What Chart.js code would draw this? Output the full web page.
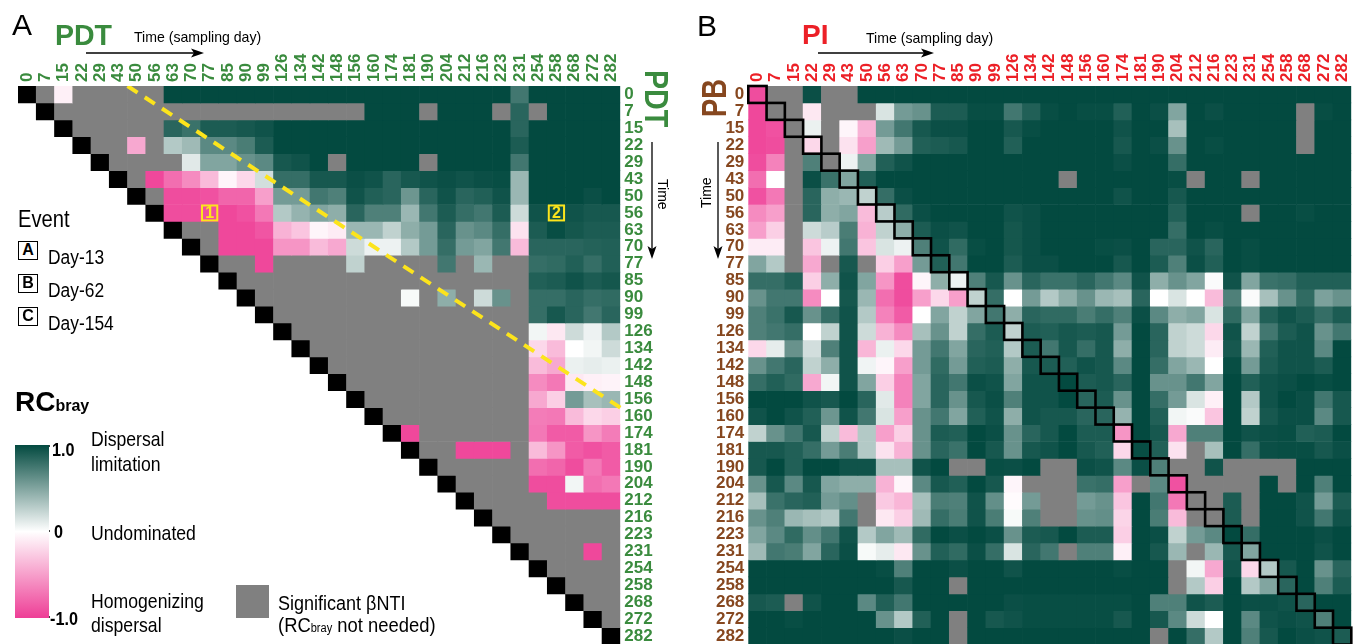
<!DOCTYPE html>
<html><head><meta charset="utf-8">
<script src="https://cdn.jsdelivr.net/npm/chart.js@4.4.1/dist/chart.umd.min.js"></script>
<style>
html,body{margin:0;padding:0;background:#fff;}
body{width:1355px;height:644px;overflow:hidden;position:relative;font-family:'Liberation Sans',Arial,sans-serif;color:#000;}
.w{position:absolute;top:0;height:680px;}
.w canvas{display:block;}
.t{position:absolute;white-space:nowrap;line-height:1;transform-origin:0 0;}
.bd{font-weight:bold;}
.box{position:absolute;left:18px;width:20px;height:19px;box-sizing:border-box;border:1.5px solid #000;font-weight:bold;font-size:16px;line-height:16px;text-align:center;background:#fff;}
</style></head><body>
<div class="w" style="left:0;width:690px"><canvas id="cA" width="690" height="680"></canvas></div>
<div class="w" style="left:690px;width:665px"><canvas id="cB" width="665" height="680"></canvas></div>

<svg width="1355" height="644" style="position:absolute;left:0;top:0">
<g stroke="#000" stroke-width="1.3" fill="none">
<line x1="86" y1="53" x2="196" y2="53"/>
<line x1="818" y1="53" x2="926" y2="53"/>
<line x1="652" y1="142" x2="652" y2="250"/>
<line x1="718" y1="142" x2="718" y2="250"/>
</g>
<g fill="#000">
<polygon points="204,53 191,48.5 194,53 191,57.5"/>
<polygon points="934,53 921,48.5 924,53 921,57.5"/>
<polygon points="652,259 647.5,246 652,249 656.5,246"/>
<polygon points="718,259 713.5,246 718,249 722.5,246"/>
</g>
<g stroke="#000" stroke-width="1.5">
<line x1="37" y1="446" x2="50" y2="446"/><line x1="37" y1="531" x2="50" y2="531"/><line x1="37" y1="617" x2="50" y2="617"/>
</g>
</svg>

<div class="t" style="left:12px;top:9.6px;font-size:30px">A</div>
<div class="t bd" style="left:55px;top:19.6px;font-size:30px;color:#3A8B3E;transform:scaleX(0.95)">PDT</div>
<div class="t" style="left:134px;top:29.3px;font-size:15px;transform:scaleX(0.94)">Time (sampling day)</div>
<div class="t" style="left:697px;top:10.6px;font-size:30px">B</div>
<div class="t bd" style="left:802px;top:21.3px;font-size:28px;color:#EC2027">PI</div>
<div class="t" style="left:866px;top:30.3px;font-size:15px;transform:scaleX(0.94)">Time (sampling day)</div>
<div class="t bd" style="left:0;top:0;font-size:34px;color:#3A8B3E;transform:translate(674.4px,70px) rotate(90deg) scaleX(0.84)">PDT</div>
<div class="t" style="left:0;top:0;font-size:14px;transform:translate(669.5px,179px) rotate(90deg)">Time</div>
<div class="t bd" style="left:0;top:0;font-size:35px;color:#86471F;transform:translate(695.5px,117px) rotate(-90deg) scaleX(0.78)">PB</div>
<div class="t" style="left:0;top:0;font-size:14px;transform:translate(699.2px,208px) rotate(-90deg)">Time</div>

<div class="t" style="left:18px;top:206.7px;font-size:24px;transform:scaleX(0.84)">Event</div>
<div class="box" style="top:241px">A</div>
<div class="box" style="top:274px">B</div>
<div class="box" style="top:307px">C</div>
<div class="t" style="left:48px;top:247.1px;font-size:20px;transform:scaleX(0.87)">Day-13</div>
<div class="t" style="left:48px;top:280.1px;font-size:20px;transform:scaleX(0.87)">Day-62</div>
<div class="t" style="left:48px;top:313.1px;font-size:20px;transform:scaleX(0.87)">Day-154</div>

<div class="t bd" style="left:15px;top:388.3px;font-size:28px">RC<span style="font-size:16px">bray</span></div>
<div style="position:absolute;left:15px;top:445px;width:34px;height:173px;background:linear-gradient(to bottom,rgb(3,74,64) 0%,#ffffff 50%,rgb(238,62,150) 100%)"></div>
<div class="t bd" style="left:52px;top:440.8px;font-size:18px;transform:scaleX(0.9)">1.0</div>
<div class="t bd" style="left:54px;top:522.8px;font-size:18px;transform:scaleX(0.9)">0</div>
<div class="t bd" style="left:50px;top:609.8px;font-size:18px;transform:scaleX(0.9)">-1.0</div>
<div class="t" style="left:90.5px;top:428.2px;font-size:21px;transform:scaleX(0.84)">Dispersal</div>
<div class="t" style="left:90.5px;top:453.2px;font-size:21px;transform:scaleX(0.84)">limitation</div>
<div class="t" style="left:90.5px;top:522.2px;font-size:21px;transform:scaleX(0.84)">Undominated</div>
<div class="t" style="left:90.5px;top:590.2px;font-size:21px;transform:scaleX(0.84)">Homogenizing</div>
<div class="t" style="left:90.5px;top:614.2px;font-size:21px;transform:scaleX(0.84)">dispersal</div>
<div style="position:absolute;left:236px;top:585px;width:33px;height:33px;background:#808080"></div>
<div class="t" style="left:278px;top:593.1px;font-size:20px;transform:scaleX(0.9)">Significant βNTI</div>
<div class="t" style="left:278px;top:615.1px;font-size:20px;transform:scaleX(0.92)">(RC<span style="font-size:12px">bray</span> not needed)</div>

<script>
// ---------------- data ----------------
const days = [0,7,15,22,29,43,50,56,63,70,77,85,90,99,126,134,142,148,156,160,174,181,190,204,212,216,223,231,254,258,268,272,282];
const _ = null; // significant βNTI (RCbray not needed) / no value

// Panel A: PDT x PDT RCbray (row = earlier day, col = later day; only the upper triangle is a pair)
const pdtRC = [
[_,_,-0.08,_,_,_,_,_,1,1,1,1,1,1,1,1,1,1,1,1,1,1,1,1,1,1,1,0.75,1,1,1,1,1],
[_,_,_,_,_,_,_,_,_,_,_,_,_,_,_,_,_,_,_,1,1,1,_,1,1,1,_,0.85,_,1,1,1,1],
[_,_,_,_,_,_,_,_,0.85,0.78,0.9,0.9,0.92,0.95,1,1,1,1,1,1,1,1,1,1,1,1,1,0.85,1,1,1,1,1],
[_,_,_,_,_,_,-0.45,_,0.3,0.38,0.65,0.65,0.72,0.9,1,1,1,1,1,1,1,1,1,1,1,1,1,0.9,1,1,1,1,1],
[_,_,_,_,_,_,_,_,_,0.12,0.5,0.5,0.6,0.65,0.92,0.95,1,_,1,1,1,1,_,1,1,1,1,0.75,1,1,1,1,1],
[_,_,_,_,_,_,_,-0.95,-0.75,-0.6,-0.35,-0.05,-0.2,0.18,0.8,0.8,0.92,0.92,0.97,0.95,0.85,0.92,0.95,0.97,0.95,0.97,0.98,0.4,1,1,1,1,1],
[_,_,_,_,_,_,_,_,-0.92,-0.92,-0.9,-0.8,-0.8,-0.5,0.55,0.55,0.75,0.7,0.95,0.88,0.85,0.58,0.85,0.95,0.85,0.88,0.95,0.4,1,1,1,0.97,1],
[_,_,_,_,_,_,_,_,-0.92,-0.92,-0.92,-0.95,-0.9,-0.7,0.3,0.42,0.5,0.45,0.85,0.7,0.7,0.4,0.75,0.9,0.8,0.75,0.9,0.2,0.95,0.95,0.95,0.92,0.92],
[_,_,_,_,_,_,_,_,_,_,_,-0.95,-0.95,-0.88,-0.4,-0.3,-0.05,-0.1,0.4,0.4,0.25,0.45,0.55,0.85,0.6,0.65,0.8,-0.15,0.9,0.98,0.93,0.9,0.9],
[_,_,_,_,_,_,_,_,_,_,_,-0.95,-0.95,-0.95,-0.55,-0.55,-0.35,-0.45,0.2,0.07,0.07,0.3,0.55,0.8,0.55,0.5,0.75,-0.35,0.85,0.85,0.85,0.87,0.88],
[_,_,_,_,_,_,_,_,_,_,_,_,_,-0.95,_,_,_,_,0.25,_,_,_,_,0.75,_,0.4,_,_,0.8,0.82,0.88,0.8,0.88],
[_,_,_,_,_,_,_,_,_,_, _,_,_,_,_,_,_,_,_,_, _,_,_,_,_,_,_,_,0.88,0.9,0.95,0.9,0.93],
[_,_,_,_,_,_,_,_,_,_, _,_,_,_,_,_,_,_,_,_, _,0.03,_,0.45,_,0.2,0.6,_,0.8,0.8,0.85,0.8,0.82],
[_,_,_,_,_,_,_,_,_,_, _,_,_,_,_,_,_,_,_,_, _,_,_,_,_,_,_,_,0.8,0.92,0.85,0.75,0.85],
[_,_,_,_,_,_,_,_,_,_, _,_,_,_,_,_,_,_,_,_, _,_,_,_,_,_,_,_,0.05,-0.12,0.2,0.07,0.3],
[_,_,_,_,_,_,_,_,_,_, _,_,_,_,_,_,_,_,_,_, _,_,_,_,_,_,_,_,-0.2,-0.35,0,0.05,0.2],
[_,_,_,_,_,_,_,_,_,_, _,_,_,_,_,_,_,_,_,_, _,_,_,_,_,_,_,_,-0.35,-0.45,0.08,0.1,0.08],
[_,_,_,_,_,_,_,_,_,_, _,_,_,_,_,_,_,_,_,_, _,_,_,_,_,_,_,_,-0.6,-0.7,-0.12,-0.08,-0.06],
[_,_,_,_,_,_,_,_,_,_, _,_,_,_,_,_,_,_,_,_, _,_,_,_,_,_,_,_,-0.45,-0.25,0.55,0.35,0.4],
[_,_,_,_,_,_,_,_,_,_, _,_,_,_,_,_,_,_,_,_, _,_,_,_,_,_,_,_,-0.68,-0.7,-0.35,-0.2,-0.25],
[_,_,_,_,_,_,_,_,_,_, _,_,_,_,_,_,_,_,_,_, _,-0.95,_,_,_,_,_,_,-0.7,-0.85,-0.85,-0.55,-0.68],
[_,_,_,_,_,_,_,_,_,_, _,_,_,_,_,_,_,_,_,_, _,_,_,_,-0.95,-0.95,-0.95,_,-0.35,-0.55,-0.85,-0.9,-0.85],
[_,_,_,_,_,_,_,_,_,_, _,_,_,_,_,_,_,_,_,_, _,_,_,_,_,_,_,_,-0.75,-0.8,-0.92,-0.7,-0.85],
[_,_,_,_,_,_,_,_,_,_, _,_,_,_,_,_,_,_,_,_, _,_,_,_,_,_,_,_,-0.92,-0.92,0.05,-0.75,-0.7],
[_,_,_,_,_,_,_,_,_,_, _,_,_,_,_,_,_,_,_,_, _,_,_,_,_,_,_,_,_,-0.92,-0.92,-0.92,-0.92],
[_,_,_,_,_,_,_,_,_,_, _,_,_,_,_,_,_,_,_,_, _,_,_,_,_,_,_,_,_,_,_,_,_],
[_,_,_,_,_,_,_,_,_,_, _,_,_,_,_,_,_,_,_,_, _,_,_,_,_,_,_,_,_,_,_,_,_],
[_,_,_,_,_,_,_,_,_,_, _,_,_,_,_,_,_,_,_,_, _,_,_,_,_,_,_,_,_,_,_,-0.95,_],
[_,_,_,_,_,_,_,_,_,_, _,_,_,_,_,_,_,_,_,_, _,_,_,_,_,_,_,_,_,_,_,_,_],
[_,_,_,_,_,_,_,_,_,_, _,_,_,_,_,_,_,_,_,_, _,_,_,_,_,_,_,_,_,_,_,_,_],
[_,_,_,_,_,_,_,_,_,_, _,_,_,_,_,_,_,_,_,_, _,_,_,_,_,_,_,_,_,_,_,_,_],
[_,_,_,_,_,_,_,_,_,_, _,_,_,_,_,_,_,_,_,_, _,_,_,_,_,_,_,_,_,_,_,_,_],
[_,_,_,_,_,_,_,_,_,_, _,_,_,_,_,_,_,_,_,_, _,_,_,_,_,_,_,_,_,_,_,_,_]
];

// Panel B: PB (rows) x PI (cols) RCbray
const pbPiRC = [
[-0.92,_,_,0.97,_,_,1,1,1,1,1,1,1,1,1, 1,1,1,1,1,1,1,1,1,1,1,1,1,1,1,1,1,1],
[-0.95,_,_,-0.12,_,_,_,0.15,0.55,0.6,0.9,0.9,0.98,0.98,0.75, 0.88,0.98,1,0.98,0.98,0.88,1,0.97,0.5,1,0.97,1,1,1,1,_,0.98,1],
[-0.95,-0.9,_,0.08,_,-0.05,-0.4,0.55,0.75,0.92,0.97,0.97,1,1,0.92, 0.98,1,1,1,1,0.95,1,1,0.35,1,1,1,1,1,1,_,1,1],
[-0.95,-0.92,_,-0.2,_,-0.15,-0.5,0.38,0.55,0.88,0.9,0.92,1,1,0.88, 1,1,1,1,1,0.92,1,0.97,0.6,1,0.98,1,1,1,1,_,1,1],
[-0.92,-0.65,_,0.7,_,0.07,0.5,0.88,0.95,1,1,1,1,1,1, 1,1,1,1,1,0.97,1,1,0.8,1,1,1,1,1,1,1,1,1],
[-0.75,0,_,0.97,0.78,0.5,0.88,1,1,1,1,1,1,1,1, 1,1,_,1,1,1,1,1,0.98,_,1,1,_,1,1,1,1,1],
[-0.9,-0.7,_,0.85,0.45,0.4,0.25,0.8,0.97,1,1,1,1,1,1, 1,1,1,1,1,0.95,1,1,0.92,1,1,1,1,1,1,1,1,1],
[-0.6,-0.5,_,0.85,0.45,0.5,-0.35,0.28,0.82,0.97,1,1,1,1,0.95, 0.97,1,1,1,1,1,1,1,0.88,1,1,1,_,1,1,0.98,1,1],
[-0.5,-0.25,_,0.2,0.28,0.72,-0.4,0.25,0.45,0.9,0.97,0.95,1,1,0.93, 0.97,1,1,1,1,1,1,1,0.8,1,0.98,1,1,1,1,1,1,1],
[-0.1,-0.1,_,-0.3,0.07,0.75,-0.3,0.15,0.07,0.7,0.95,0.82,0.98,1,0.93, 0.97,1,1,1,0.98,0.97,1,0.85,0.85,0.95,0.85,1,0.98,1,1,1,1,1],
[0.5,0.3,_,-0.45,_,0.92,_,-0.25,-0.5,0.55,0.88,0.75,1,1,0.9, 0.97,0.97,1,1,1,0.92,1,0.9,0.7,0.97,0.88,1,0.98,1,1,1,1,1],
[0.8,0.8,0.88,-0.25,0.45,0.95,0.5,-0.55,-0.92,-0.05,0.45,0.07,0.7,0.92,0.6, 0.85,0.78,0.78,0.85,0.75,0.65,0.95,0.45,0.6,0.5,0.02,0.95,0.5,0.78,0.8,0.88,0.88,0.88],
[0.6,0.75,0.75,-0.6,0,0.93,0.4,-0.75,-0.92,-0.5,-0.2,-0.5,0.25,0.8,0, 0.55,0.3,0.45,0.6,0.4,0.35,0.85,0,0.15,0,-0.35,0.7,0.02,0.35,0.6,0.82,0.52,0.6],
[0.7,0.78,0.92,0.6,0.8,0.95,0.3,-0.65,-0.85,0,0.5,0.25,0.5,0.75,0.45, 0.85,0.82,0.82,0.72,0.8,0.7,0.97,0.65,0.45,0.5,0.15,0.82,0.5,0.88,0.95,0.9,0.8,0.9],
[0.7,0.75,0.8,0,0.25,0.95,0.2,-0.4,-0.6,0.35,0.6,0.25,0.8,0.9,0.25, 0.9,0.88,0.92,0.9,0.92,0.55,1,0.85,0.25,0.2,-0.2,0.95,0.25,0.75,0.9,0.95,0.6,0.75],
[-0.2,0.1,0.6,0.18,0.7,0.95,-0.38,0.08,-0.2,0.55,0.75,0.5,0.85,0.88,0.3, 0.9,0.75,0.92,0.8,0.92,0.45,1,0.85,0.25,0.2,-0.1,0.92,0.4,0.88,0.95,0.95,0.65,1],
[0.6,0.75,0.85,0.25,0.45,0.95,0.06,-0.05,-0.5,0.55,0.82,0.55,0.88,0.9,0.45, 0.92,0.9,0.88,0.95,0.92,0.65,1,0.8,0.5,0.4,0,0.98,0.55,0.9,0.95,0.95,0.9,1],
[0.8,0.88,0.82,-0.45,0.05,0.95,0.5,-0.25,-0.65,0.5,0.85,0.75,0.97,0.95,0.5, 0.95,0.95,1,0.9,0.92,0.85,1,0.6,0.6,0.75,0.5,1,0.88,0.95,0.97,1,0.98,1],
[1,1,1,0.95,0.92,1,0.85,0.12,-0.65,0.5,0.85,0.6,0.92,0.97,0.7, 0.95,0.95,1,0.85,0.9,0.6,1,0.8,0.55,0.15,-0.08,1,0.3,0.95,1,0.97,0.75,0.92],
[0.95,1,0.95,0.88,0.58,0.95,0.75,0.15,-0.5,0.6,0.75,0.5,0.88,0.95,0.45, 0.95,0.92,0.92,0.85,0.85,0.42,1,0.88,0.05,0.02,-0.3,1,0.25,0.92,0.97,0.97,0.65,0.92],
[0.25,0.6,0.75,0.92,0.25,-0.35,0.3,-0.5,-0.25,0.6,0.9,0.88,1,0.97,0.6, 0.85,0.92,1,0.9,0.9,-0.55,1,0.92,-0.45,0.7,0.7,1,0.95,0.97,0.98,0.88,0.9,1],
[0.92,0.92,0.88,0.8,0.55,0.72,0.3,-0.15,-0.4,0.6,0.85,0.78,1,0.92,0.6, 0.92,0.95,1,0.92,0.88,-0.2,0.98,0.88,-0.15,_,0.35,1,0.8,0.97,0.98,0.98,0.92,0.97],
[0.92,1,0.88,1,1,0.95,0.95,0.35,0.35,0.95,1,_,_,0.98,0.97, 1,_,_,0.97,0.95,0.65,0.97,0.7,_,_,0.95,_,_,_,_,1,1,1],
[0.6,0.92,0.65,0.92,0.5,0.45,0.45,-0.4,-0.05,0.65,0.92,0.88,1,0.92,-0.05, _,_,_,0.78,0.8,-0.5,_,0.65,-0.9,_,_,_,_,1,_,1,0.7,1],
[0.35,0.78,0.85,0.88,0.55,0.62,_,-0.28,-0.38,0.35,0.72,0.7,0.95,0.62,-0.02, 0.55,_,_,0.55,0.6,-0.3,1,0.75,-0.7,_,_,0.9,_,1,1,0.95,0.55,0.9],
[0.6,0.7,0.4,0.35,0.3,0.75,_,-0.12,-0.25,0.38,0.8,0.72,0.95,0.72,0.03, 0.7,_,_,0.6,0.62,-0.22,1,0.72,-0.35,_,_,0.9,_,1,1,0.95,0.75,0.95],
[0.5,0.65,0.82,0.62,0.75,0.95,0.3,0.5,0.38,0.82,1,0.97,1,0.97,0.6, 0.9,0.92,1,0.9,0.9,-0.25,1,0.97,0.25,0.55,0.65,1,0.8,1,1,1,0.97,1],
[0.38,0.75,0.72,0.5,0.85,0.97,0.03,0.1,-0.12,0.6,0.88,0.82,0.97,0.8,0.15, 0.85,0.75,_,0.7,0.7,-0.08,1,0.92,0.4,_,0.4,0.92,0.5,1,1,1,0.95,1],
[1,1,1,1,1,1,1,0.98,0.7,1,1,0.97,1,1,0.95, 1,1,1,1,1,0.98,1,1,_,0.05,-0.45,0.95,-0.2,0.3,0.92,1,0.6,0.85],
[1,1,1,1,1,1,1,1,0.92,1,1,_,1,1,1, 1,1,1,1,1,1,1,1,_,0.3,-0.25,1,0.3,0.5,0.85,1,0.7,0.9],
[0.92,0.9,_,0.95,1,1,0.65,0.88,0.75,1,1,1,1,1,0.97, 0.98,0.98,0.98,0.98,0.98,0.98,1,0.7,0.7,0.95,0.9,1,0.97,0.97,0.95,0.85,1,1],
[1,1,0.98,1,1,1,1,0.6,0.3,0.88,1,_,1,0.92,0.95, 0.98,0.98,0.98,0.98,0.98,0.92,1,0.92,0.65,0.2,0,1,0.65,0.95,0.97,0.95,0.7,1],
[1,1,1,1,1,1,1,1,0.97,1,1,_,1,1,1, 1,1,1,1,1,1,1,_,1,0.8,0.3,1,0.7,0.92,1,0.97,0.95,0.9]
];

// event boxes (col, row) and the yellow dashed guide (category index x, row y)
const eventMarkers = [{col:10,row:7,label:'1'},{col:29,row:7,label:'2'}];
const guideLine = [{x:5.5,y:0},{x:32.5,y:19}];

// ---------------- drawing ----------------
[pdtRC, pbPiRC].forEach((m,k)=>{
  if (m.length!==33) throw new Error('matrix '+k+' has '+m.length+' rows');
  m.forEach((r,i)=>{ if(r.length!==33) throw new Error('matrix '+k+' row '+i+' len '+r.length); });
});

const TEAL=[3,74,64], PINK=[238,62,150], GRAY='#808080', YELLOW='#FCE41C';
const GREEN='#3A8B3E', RED='#EC2027', BROWN='#86471F';
const FONT="'Liberation Sans', Arial, sans-serif";
const TICK_SIZE = 17;

function rcColor(v){
  if (v===null) return GRAY;
  const e = v>=0 ? TEAL : PINK, t = Math.min(1, Math.abs(v));
  return 'rgb(' + e.map(c=>Math.round(255+(c-255)*t)).join(',') + ')';
}

const overlayPlugin = {
  id:'overlay',
  afterDatasetsDraw(chart, args, opts){
    const {ctx, scales:{x, y}} = chart;
    const bw = x.getPixelForValue(1) - x.getPixelForValue(0);
    ctx.save();
    if (opts.outlineDiagonal){
      ctx.strokeStyle = '#000'; ctx.lineWidth = 2.6;
      for (let i = 0; i < days.length; i++){
        const x0 = x.getPixelForValue(i) - bw/2;
        const y0 = y.getPixelForValue(i), y1 = y.getPixelForValue(i+1);
        ctx.strokeRect(x0, y0, bw, y1 - y0);
      }
    }
    for (const m of (opts.items || [])){
      const cx = x.getPixelForValue(m.col);
      const y0 = y.getPixelForValue(m.row), y1 = y.getPixelForValue(m.row+1);
      ctx.strokeStyle = YELLOW; ctx.lineWidth = 2;
      ctx.strokeRect(cx - bw/2 + 1.5, y0 + 1, bw - 3, y1 - y0 - 2);
      ctx.fillStyle = YELLOW;
      ctx.font = 'bold 16px ' + FONT;
      ctx.textAlign = 'center'; ctx.textBaseline = 'middle';
      ctx.fillText(m.label, cx, (y0+y1)/2 + 1);
    }
    ctx.restore();
  }
};

function tickFont(){ return {family: FONT, size: TICK_SIZE, weight: 'bold', lineHeight: 1}; }

function heatmap(canvasId, matrix, cfg){
  const datasets = matrix.map((row, r) => ({
    type:'bar', label:String(days[r]), xAxisID:'x', yAxisID:'y',
    data: row.map((v,c) => (cfg.upperOnly && c < r) ? null : [r, r+1]),
    backgroundColor: row.map((v,c) => (cfg.blackDiagonal && r===c) ? '#000' : rcColor(v)),
    borderWidth:0, grouped:false, categoryPercentage:1, barPercentage:1, order:1
  }));
  (cfg.extra || []).forEach(d => datasets.push(d));
  return new Chart(document.getElementById(canvasId), {
    type:'bar',
    data:{ labels: days.map(String), datasets },
    options:{
      responsive:false, animation:false, devicePixelRatio:1,
      layout:{ padding: cfg.padding },
      plugins:{ legend:{display:false}, tooltip:{enabled:false},
                overlay:{ items: cfg.markers || [], outlineDiagonal: !!cfg.outlineDiagonal } },
      scales:{
        x:{ type:'category', position:'top', offset:true,
            grid:{display:false, drawTicks:false}, border:{display:false},
            ticks:{ autoSkip:false, minRotation:90, maxRotation:90, padding:4, labelOffset:TICK_SIZE, color:cfg.xColor, font:tickFont() },
            afterFit: s => { s.height = 86; } },
        y:{ type:'linear', position:cfg.yPos, reverse:true, min:0, max:33,
            grid:{display:false, drawTicks:false}, border:{display:false},
            afterBuildTicks: s => { s.ticks = days.map((d,i) => ({value:i+0.5})); },
            ticks:{ autoSkip:false, padding:4, color:cfg.yColor, font:tickFont(), callback:(v,i) => String(days[i]) },
            afterFit: s => { s.width = cfg.yWidth; } }
      }
    },
    plugins:[overlayPlugin]
  });
}

heatmap('cA', pdtRC, {
  upperOnly:true, blackDiagonal:true, xColor:GREEN, yColor:GREEN, yPos:'right', yWidth:69.7,
  padding:{left:18, right:0, top:0, bottom:35.4},
  markers: eventMarkers,
  extra:[{ type:'line', label:'guide', xAxisID:'x', yAxisID:'y', data: guideLine, parsing:false,
           borderColor:YELLOW, borderWidth:4, borderDash:[12,8.59], pointRadius:0, fill:false, order:-1 }]
});
heatmap('cB', pbPiRC, {
  outlineDiagonal:true, xColor:RED, yColor:BROWN, yPos:'left', yWidth:58.3,
  padding:{left:0, right:3.7, top:0, bottom:35.4}
});
</script>
</body></html>
